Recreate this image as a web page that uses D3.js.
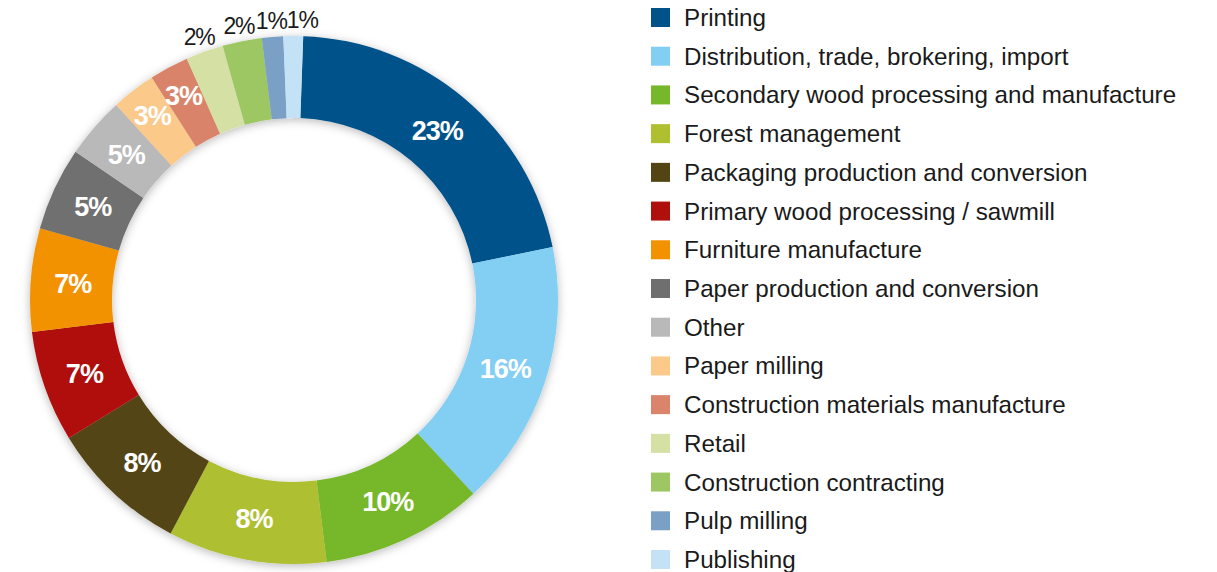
<!DOCTYPE html>
<html>
<head>
<meta charset="utf-8">
<script src="https://cdn.jsdelivr.net/npm/d3@7"></script>
<style>
  html, body { margin: 0; padding: 0; background: #ffffff; }
  svg { display: block; }
</style>
</head>
<body>
<svg id="chart" width="1217" height="572"></svg>
<script>
// ---- data ----
const categories = [
  "Printing",
  "Distribution, trade, brokering, import",
  "Secondary wood processing and manufacture",
  "Forest management",
  "Packaging production and conversion",
  "Primary wood processing / sawmill",
  "Furniture manufacture",
  "Paper production and conversion",
  "Other",
  "Paper milling",
  "Construction materials manufacture",
  "Retail",
  "Construction contracting",
  "Pulp milling",
  "Publishing"
];
// shares as drawn in the picture (percent of the ring)
const shares = [21.2, 16.3, 9.9, 9.7, 8.5, 6.8, 6.3, 5.1, 3.75, 2.7, 2.4, 2.3, 2.4, 1.3, 1.2];
// labels printed on the chart
const labels = ["23%", "16%", "10%", "8%", "8%", "7%", "7%", "5%", "5%", "3%", "3%", "2%", "2%", "1%", "1%"];
const colors = [
  "#02528a", "#82cff3", "#77b82b", "#aebf30", "#534513",
  "#b0100c", "#f39200", "#6f6f6f", "#b9b9b9", "#fbc98a",
  "#d9846b", "#d5e0a5", "#9dc763", "#7aa0c6", "#c3e2f5"
];

const svg = d3.select("#chart");
const cx = 294, cy = 300, rOuter = 264, rInner = 182;

const defs = svg.append("defs");
const f = defs.append("filter").attr("id", "shadow")
  .attr("x", "-20%").attr("y", "-20%").attr("width", "140%").attr("height", "140%");
f.append("feDropShadow").attr("dx", 0).attr("dy", 2).attr("stdDeviation", 5)
  .attr("flood-color", "#000").attr("flood-opacity", 0.28);

const data = categories.map((c, i) => ({ name: c, value: shares[i], label: labels[i], color: colors[i] }));

const pie = d3.pie().sort(null).value(d => d.value)
  .startAngle(2 * Math.PI / 180).endAngle(2 * Math.PI + 2 * Math.PI / 180);
const arcs = pie(data);
const arc = d3.arc().innerRadius(rInner).outerRadius(rOuter);

const g = svg.append("g").attr("transform", `translate(${cx},${cy})`);
g.append("g").attr("filter", "url(#shadow)")
  .selectAll("path").data(arcs).join("path")
  .attr("d", arc)
  .attr("fill", d => d.data.color);

const isOutside = d => parseInt(d.data.label) < 3;

// inside labels
const inside = arcs.filter(d => !isOutside(d));
g.selectAll("text.in").data(inside).join("text")
  .attr("class", "in")
  .attr("transform", d => {
    const r = parseInt(d.data.label) < 4 ? 233 : 222;
    const a = (d.startAngle + d.endAngle) / 2;
    return `translate(${r * Math.sin(a)},${-r * Math.cos(a)})`;
  })
  .attr("text-anchor", "middle")
  .attr("dy", "0.36em")
  .attr("fill", "#ffffff")
  .attr("font-family", "'Liberation Sans', Arial, Helvetica, sans-serif")
  .attr("font-weight", "bold")
  .attr("font-size", 27)
  .attr("letter-spacing", -1)
  .text(d => d.data.label);

// outside labels with simple de-overlap
const outside = arcs.filter(isOutside).map(d => {
  const a = (d.startAngle + d.endAngle) / 2;
  const r = 280;
  return { d, x: r * Math.sin(a), y: -r * Math.cos(a) };
}).sort((a, b) => a.x - b.x);
for (let i = 1; i < outside.length; i++) {
  if (outside[i].x - outside[i - 1].x < 31) outside[i].x = outside[i - 1].x + 31;
}
g.selectAll("text.out").data(outside).join("text")
  .attr("class", "out")
  .attr("x", d => d.x).attr("y", d => d.y)
  .attr("text-anchor", "middle")
  .attr("dy", "0.36em")
  .attr("fill", "#1a1a1a")
  .attr("font-family", "'Liberation Sans', Arial, Helvetica, sans-serif")
  .attr("font-size", 23)
  .attr("letter-spacing", -1.2)
  .text(d => d.d.data.label);

// legend
const ly = d3.scalePoint().domain(categories).range([17.5, 559.5]);
const leg = svg.append("g");
const items = leg.selectAll("g").data(data).join("g")
  .attr("transform", d => `translate(651,${ly(d.name)})`);
items.append("rect").attr("x", 0).attr("y", -9.5).attr("width", 19).attr("height", 19)
  .attr("fill", d => d.color);
items.append("text").attr("x", 33).attr("y", 0).attr("dy", "0.35em")
  .attr("fill", "#1a1a1a")
  .attr("font-family", "'Liberation Sans', Arial, Helvetica, sans-serif")
  .attr("font-size", 24.2)
  .text(d => d.name);
</script>
</body>
</html>
